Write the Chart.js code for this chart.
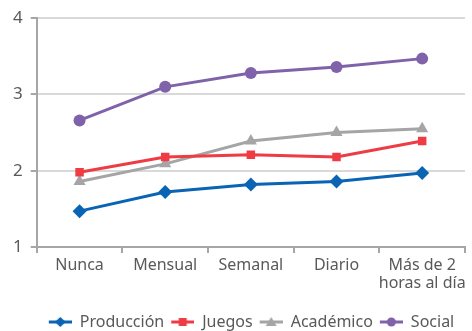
<!DOCTYPE html>
<html>
<head>
<meta charset="utf-8">
<script src="https://cdn.jsdelivr.net/npm/chart.js@4.4.1/dist/chart.umd.min.js"></script>
<style>
  html, body { margin: 0; padding: 0; background: #fff; }
  #wrap { width: 472px; height: 331px; }
</style>
</head>
<body>
<div id="wrap"><canvas id="grafico"></canvas></div>
<script>
// categorias y valores por serie
var categorias = ['Nunca', 'Mensual', 'Semanal', 'Diario', ['Más de 2', 'horas al día']];
var produccion = [1.47, 1.72, 1.82, 1.86, 1.97];
var juegos     = [1.98, 2.18, 2.21, 2.18, 2.39];
var academico  = [1.86, 2.09, 2.39, 2.50, 2.55];
var social     = [2.66, 3.10, 3.28, 3.36, 3.47];
var ticksY     = [1, 2, 3, 4];

var fuente = "'Noto Sans', sans-serif";

// icono de leyenda: linea corta con el marcador encima (con margen a la izquierda)
function iconoLeyenda(color, estilo) {
    var c = document.createElement('canvas');
    c.width = 28; c.height = 16;
    var ctx = c.getContext('2d');
    var m = 16.5; // centro del marcador
    ctx.strokeStyle = color;
    ctx.fillStyle = color;
    ctx.lineWidth = 3;
    ctx.beginPath();
    ctx.moveTo(5, 8); ctx.lineTo(28, 8);
    ctx.stroke();
    ctx.beginPath();
    if (estilo === 'rectRot') {
        ctx.moveTo(m, 3); ctx.lineTo(m + 5.5, 8); ctx.lineTo(m, 13); ctx.lineTo(m - 5.5, 8);
    } else if (estilo === 'rect') {
        ctx.rect(m - 4, 4, 8, 8);
    } else if (estilo === 'triangle') {
        ctx.moveTo(m, 3); ctx.lineTo(m + 5.5, 12); ctx.lineTo(m - 5.5, 12);
    } else {
        ctx.arc(m, 8, 4.5, 0, Math.PI * 2);
    }
    ctx.closePath();
    ctx.fill();
    return c;
}

function serie(nombre, datos, color, estilo, radio) {
    return {
        label: nombre,
        data: datos,
        borderColor: color,
        backgroundColor: color,
        borderWidth: 3,
        pointStyle: estilo,
        pointRadius: radio,
        pointHoverRadius: radio,
        pointBorderWidth: 0,
        tension: 0,
        icono: iconoLeyenda(color, estilo)
    };
}

// la leyenda queda mas pegada al borde inferior y algo corrida a la derecha
var leyendaBaja = {
    id: 'leyendaBaja',
    beforeLayout: function (chart) {
        var ley = chart.legend;
        if (!ley || ley._ajustada) return;
        var fitOrig = ley.fit;
        ley.fit = function () {
            fitOrig.call(this);
            this.height -= 9;
        };
        ley._ajustada = true;
    },
    afterLayout: function (chart) {
        var ley = chart.legend;
        if (!ley) return;
        ley.left += 14;
        ley.right += 14;
    }
};

var ctx = document.getElementById('grafico').getContext('2d');
window.miGrafico = new Chart(ctx, {
    type: 'line',
    data: {
        labels: categorias,
        datasets: [
            serie('Producción', produccion, '#0A64B4', 'rectRot', 7),
            serie('Juegos', juegos, '#EE3B44', 'rect', 6),
            serie('Académico', academico, '#A5A5A7', 'triangle', 7),
            serie('Social', social, '#7F62AA', 'circle', 6)
        ]
    },
    plugins: [leyendaBaja],
    options: {
        responsive: true,
        maintainAspectRatio: false,
        animation: false,
        layout: { padding: { top: 11, right: 7, left: 5, bottom: 0 } },
        scales: {
            x: {
                offset: true,
                afterFit: function (eje) { eje.height = 65; },
                grid: {
                    offset: true,
                    drawOnChartArea: false,
                    drawTicks: true,
                    tickLength: 6,
                    color: '#A6A6A6',
                    lineWidth: 2
                },
                border: { color: '#A6A6A6', width: 2 },
                ticks: {
                    color: '#595959',
                    font: { family: fuente, size: 16, lineHeight: 1.15 },
                    maxRotation: 0,
                    autoSkip: false,
                    padding: 3
                }
            },
            y: {
                min: 1,
                max: 4,
                afterBuildTicks: function (eje) {
                    eje.ticks = ticksY.map(function (v) { return { value: v }; });
                },
                grid: {
                    color: '#D9D9D9',
                    lineWidth: 2,
                    tickLength: 6,
                    tickColor: '#A6A6A6'
                },
                border: { color: '#A6A6A6', width: 2 },
                ticks: {
                    color: '#595959',
                    font: { family: fuente, size: 17 },
                    padding: 8
                }
            }
        },
        plugins: {
            tooltip: { enabled: false },
            legend: {
                position: 'bottom',
                labels: {
                    usePointStyle: true,
                    pointStyleWidth: 28,
                    color: '#595959',
                    font: { family: fuente, size: 16, lineHeight: 1 },
                    padding: 2,
                    generateLabels: function (chart) {
                        return chart.data.datasets.map(function (d, i) {
                            return {
                                text: d.label,
                                fillStyle: d.borderColor,
                                strokeStyle: d.borderColor,
                                pointStyle: d.icono,
                                fontColor: '#595959',
                                hidden: false,
                                datasetIndex: i
                            };
                        });
                    }
                }
            }
        }
    }
});
</script>
</body>
</html>
